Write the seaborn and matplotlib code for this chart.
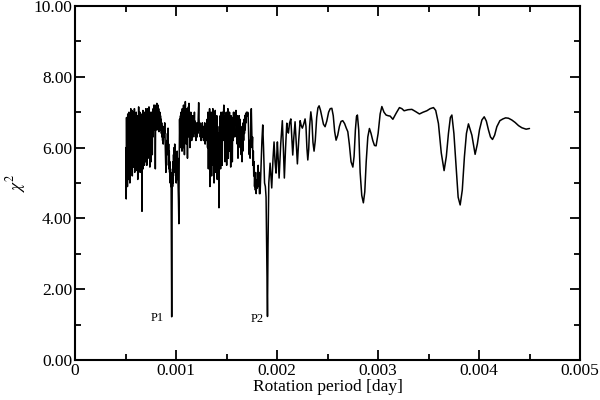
import numpy as np
import pandas as pd
import matplotlib
matplotlib.use('Agg')
import matplotlib.pyplot as plt
from matplotlib.ticker import FixedLocator
import seaborn as sns

# ── data: (period in micro-days, chi^2) ──────────────────────────────────
noisy_a = [
    (505, 6.0), (507, 4.55), (510, 6.85), (513, 5.3), (516, 6.6), (519, 4.9), (522, 6.95), (525, 5.6),
    (528, 6.4), (531, 5.1), (534, 7.0), (537, 5.5), (540, 6.7), (543, 5.0), (546, 6.9), (549, 5.9),
    (552, 7.1), (555, 5.4), (558, 6.6), (561, 5.8), (564, 7.05), (567, 5.2), (570, 6.8), (573, 5.7),
    (576, 7.0), (579, 5.45), (582, 6.75), (585, 6.0), (588, 7.1), (591, 5.3), (594, 6.6), (597, 5.75),
    (600, 6.95), (603, 5.4), (606, 7.0), (609, 5.9), (612, 6.8), (615, 5.35), (618, 6.9), (621, 5.1),
    (624, 6.7), (627, 5.8), (630, 7.15), (633, 5.5), (636, 6.85), (639, 5.95), (642, 7.0), (645, 5.3),
    (648, 6.7), (651, 5.6), (654, 6.95), (657, 5.9), (660, 6.6), (663, 4.2), (666, 6.8), (669, 5.7),
    (672, 7.05), (675, 5.4), (678, 6.6), (681, 5.9), (684, 6.9), (687, 5.5), (690, 7.0), (693, 5.95),
    (696, 6.75), (699, 5.6), (702, 7.1), (705, 6.1), (708, 6.85), (711, 5.5), (714, 6.9), (717, 6.0),
    (720, 7.1), (723, 5.7), (726, 6.8), (729, 6.2), (732, 7.15), (735, 5.9), (738, 6.7), (741, 5.45),
    (744, 6.9), (747, 6.1), (750, 7.0), (753, 5.6), (756, 6.8), (759, 6.2), (762, 7.0), (765, 5.8),
    (768, 6.9), (771, 6.3), (774, 7.1),
]

noisy_b = [
    (777, 6.6), (780, 7.2), (783, 6.5), (786, 7.05), (789, 6.7), (792, 7.2), (795, 5.4), (798, 6.9),
    (801, 6.5), (804, 7.15), (807, 6.6), (810, 7.25), (813, 6.5), (816, 7.0), (819, 6.7), (822, 7.2),
    (825, 6.6), (828, 7.1), (831, 6.45), (834, 6.95), (837, 6.7), (840, 7.0), (843, 6.5), (846, 6.9),
    (849, 6.6), (852, 6.8), (855, 6.4), (858, 6.7), (861, 6.3), (864, 6.6), (867, 6.2), (870, 6.5),
    (873, 6.1), (876, 6.4), (879, 6.3), (882, 6.6), (885, 6.4), (888, 6.7), (891, 6.3), (894, 5.9),
    (897, 5.6), (900, 5.3), (903, 5.9), (906, 5.5), (909, 6.2), (912, 5.8), (915, 6.4), (918, 6.0),
    (921, 6.55), (924, 5.8), (927, 6.1), (930, 5.4), (933, 5.9), (936, 5.3), (939, 5.6), (942, 5.0),
    (945, 5.4), (948, 4.9), (951, 5.2), (954, 3.5), (957, 1.22), (960, 3.8), (963, 5.3), (966, 4.9),
    (969, 5.6), (972, 5.0), (975, 5.8), (978, 5.3), (981, 6.0), (984, 5.5), (987, 6.1), (990, 5.6),
    (993, 5.9), (996, 5.2), (999, 5.7), (1002, 5.0), (1005, 5.6), (1008, 5.3), (1011, 5.9), (1014, 5.1),
    (1017, 5.7), (1020, 5.0), (1024, 4.5), (1028, 3.85), (1031, 5.5), (1035, 6.8), (1038, 6.2),
]

noisy_c = [
    (1041, 6.5), (1044, 6.9), (1047, 6.0), (1050, 7.0), (1053, 6.2), (1056, 6.8), (1059, 5.9), (1062, 7.1),
    (1065, 6.3), (1068, 6.9), (1071, 6.0), (1074, 7.2), (1077, 6.4), (1080, 6.8), (1083, 5.8), (1086, 7.0),
    (1089, 6.2), (1092, 7.3), (1095, 6.5), (1098, 6.9), (1101, 6.1), (1104, 7.1), (1107, 6.4), (1110, 7.0),
    (1113, 5.7), (1116, 6.8), (1119, 6.3), (1122, 7.15), (1125, 6.6), (1128, 7.25), (1131, 6.5), (1134, 6.9),
    (1137, 6.0), (1140, 6.7), (1143, 6.3), (1146, 7.0), (1149, 6.5), (1152, 6.8), (1155, 6.2), (1158, 6.6),
    (1161, 6.4), (1164, 6.9), (1167, 6.3), (1170, 6.7), (1173, 6.5), (1176, 6.9), (1179, 6.6), (1182, 7.0),
    (1185, 6.4), (1188, 6.75), (1191, 6.3), (1194, 6.6), (1197, 6.2), (1200, 6.5), (1203, 6.4), (1206, 6.7),
    (1209, 6.3), (1212, 6.6), (1215, 6.4), (1218, 6.7),
]

noisy_d = [
    (1221, 6.9), (1224, 7.27), (1228, 6.8), (1232, 6.5), (1236, 6.7), (1240, 6.3), (1244, 6.6), (1248, 6.2),
    (1252, 6.5), (1256, 6.35), (1260, 6.7), (1264, 6.3), (1268, 6.6), (1272, 6.2), (1276, 6.5), (1280, 6.4),
    (1284, 6.7), (1288, 6.1), (1292, 6.5), (1296, 6.3), (1300, 6.6), (1304, 6.2), (1308, 6.8), (1312, 6.0),
    (1316, 7.0), (1320, 5.4), (1324, 6.9), (1328, 5.8), (1332, 7.1), (1336, 4.9), (1340, 6.8), (1344, 5.6),
    (1348, 7.0), (1352, 5.2), (1356, 6.9), (1360, 5.9), (1364, 7.1), (1368, 5.5), (1372, 6.8), (1376, 5.0),
    (1380, 6.9), (1384, 5.7), (1388, 7.05), (1392, 5.3), (1396, 6.7), (1400, 5.8), (1404, 6.9), (1408, 5.1),
    (1412, 6.6), (1416, 5.6), (1420, 6.4), (1425, 4.3), (1429, 6.3), (1433, 5.7), (1437, 6.9), (1441, 5.4),
    (1445, 7.0), (1449, 6.0), (1453, 6.8), (1457, 5.5), (1461, 7.0), (1465, 6.2), (1469, 6.9), (1473, 7.2),
    (1477, 6.3), (1481, 6.9), (1485, 5.6), (1489, 6.8), (1493, 6.1), (1497, 7.0), (1501, 5.5), (1505, 6.7),
    (1509, 6.0), (1513, 7.1), (1517, 5.7), (1521, 6.8), (1525, 6.3), (1529, 7.0), (1533, 5.9), (1537, 6.6),
    (1541, 5.45), (1545, 6.9), (1549, 6.0), (1553, 6.7), (1557, 5.6), (1561, 6.85), (1565, 6.2), (1569, 7.0),
    (1573, 6.5), (1577, 6.9), (1581, 6.3), (1585, 7.0), (1589, 6.8), (1593, 7.05), (1597, 6.9), (1601, 6.6),
    (1605, 6.1), (1609, 6.9), (1613, 5.7), (1617, 6.6), (1621, 6.0), (1625, 6.9), (1629, 6.3), (1633, 6.8),
    (1637, 6.1), (1641, 6.6), (1645, 5.8), (1649, 6.5), (1653, 5.6), (1657, 6.3), (1661, 5.9), (1665, 6.7),
    (1669, 6.2), (1673, 6.8), (1677, 6.4), (1681, 6.9), (1685, 6.5), (1689, 6.95), (1693, 6.7), (1697, 7.0),
    (1701, 6.95), (1705, 6.9), (1709, 7.0), (1713, 6.95), (1717, 6.6), (1721, 6.0), (1725, 5.8), (1729, 6.2),
    (1733, 5.7), (1737, 6.3), (1741, 6.8), (1745, 7.1), (1749, 6.6), (1753, 6.0), (1757, 6.3), (1761, 5.5),
    (1765, 5.9), (1769, 5.2), (1773, 5.6), (1777, 4.9), (1781, 5.3), (1785, 4.8), (1789, 5.1), (1793, 4.7),
    (1797, 5.0), (1801, 4.85), (1805, 5.3), (1809, 5.0), (1813, 5.5), (1817, 4.9), (1821, 5.3), (1825, 4.7),
]

ripple = [
    (1832, 4.7), (1840, 5.4), (1850, 6.2), (1858, 6.64), (1866, 6.0), (1876, 5.0), (1884, 4.9), (1891, 4.6),
    (1898, 2.8), (1905, 1.23), (1910, 3.2), (1918, 5.0), (1931, 5.56), (1947, 4.86), (1960, 5.7), (1970, 6.16),
    (1980, 5.6), (1990, 5.28), (1997, 5.8), (2003, 6.16), (2012, 5.6), (2020, 5.14), (2036, 6.1), (2052, 6.76),
    (2062, 6.0), (2072, 5.14), (2084, 6.0), (2096, 6.69), (2104, 6.5), (2112, 6.41), (2124, 6.7), (2136, 6.81),
    (2146, 6.3), (2155, 5.79), (2166, 6.3), (2178, 6.73), (2190, 6.1), (2201, 5.54), (2214, 6.2),
]

smooth = [
    (2228, 6.76), (2239, 6.62), (2250, 6.55), (2263, 6.66), (2277, 6.81), (2286, 6.6), (2295, 6.0), (2304, 5.65),
    (2313, 5.95), (2322, 6.6), (2334, 7.01), (2345, 6.75), (2355, 6.15), (2366, 5.90), (2378, 6.2), (2392, 6.85),
    (2404, 7.12), (2416, 7.18), (2430, 7.05), (2443, 6.87), (2459, 6.66), (2475, 6.59), (2492, 6.75), (2510, 7.0),
    (2526, 7.1), (2542, 7.11), (2556, 6.9), (2570, 6.45), (2584, 6.21), (2600, 6.35), (2617, 6.6), (2633, 6.74),
    (2650, 6.76), (2668, 6.68), (2685, 6.55), (2700, 6.45), (2715, 6.1), (2732, 5.6), (2750, 5.45), (2762, 5.75),
    (2775, 6.5), (2786, 6.88), (2795, 6.92), (2808, 6.5), (2822, 5.3), (2838, 4.65), (2854, 4.44), (2868, 4.75),
    (2882, 5.6), (2898, 6.3), (2914, 6.54), (2930, 6.4), (2947, 6.2), (2964, 6.06), (2980, 6.05), (3000, 6.4),
    (3020, 6.95), (3037, 7.16), (3058, 7.0), (3079, 6.92), (3100, 6.9), (3119, 6.89), (3146, 6.80), (3180, 6.98),
    (3211, 7.13), (3235, 7.1), (3257, 7.04), (3295, 7.07), (3334, 7.08), (3370, 7.02), (3409, 6.95), (3445, 7.0),
    (3482, 7.04), (3515, 7.1), (3548, 7.13), (3570, 7.05), (3597, 6.68), (3625, 5.85), (3653, 5.35), (3675, 5.75),
    (3696, 6.40), (3715, 6.85), (3730, 6.92), (3750, 6.4), (3772, 5.46), (3792, 4.6), (3812, 4.38), (3833, 4.8),
    (3854, 5.74), (3874, 6.4), (3894, 6.67), (3928, 6.35), (3960, 5.81), (3982, 6.1), (4003, 6.50), (4027, 6.78),
    (4050, 6.87), (4071, 6.75), (4092, 6.50), (4112, 6.3), (4132, 6.23), (4153, 6.35), (4175, 6.59), (4205, 6.76),
    (4235, 6.81), (4262, 6.84), (4290, 6.83), (4323, 6.78), (4356, 6.71), (4390, 6.62), (4423, 6.56), (4465, 6.52),
    (4498, 6.54),
]

x_ticks = [0, 0.001, 0.002, 0.003, 0.004, 0.005]
x_labels = ['0', '0.001', '0.002', '0.003', '0.004', '0.005']
y_ticks = [0, 2, 4, 6, 8, 10]
peak_labels = [('P1', 0.000817, 1.19), ('P2', 0.00180, 1.16)]

# ── build table ─────────────────────────────────────────────
pairs = np.array(noisy_a + noisy_b + noisy_c + noisy_d + ripple + smooth, dtype=float)
df = pd.DataFrame({'period': pairs[:, 0] * 1e-6, 'chi2': pairs[:, 1]})

# ── style ───────────────────────────────────────────────────
sns.set_theme(style='ticks')
plt.rcParams['font.family'] = ['Liberation Serif', 'DejaVu Serif']
plt.rcParams['mathtext.fontset'] = 'stix'
plt.rcParams['text.color'] = 'black'
plt.rcParams['axes.labelcolor'] = 'black'

fig = plt.figure(figsize=(6, 4), dpi=100)
ax = fig.add_axes([0.125, 0.1, 0.842, 0.885])

sns.lineplot(data=df, x='period', y='chi2', estimator=None, sort=False,
             color='black', linewidth=1.1, ax=ax)

ax.set_xlim(0, 0.005)
ax.set_ylim(0, 10)
ax.xaxis.set_major_locator(FixedLocator(x_ticks))
ax.set_xticklabels(x_labels)
ax.xaxis.set_minor_locator(FixedLocator([0.0005, 0.0015, 0.0025, 0.0035, 0.0045]))
ax.yaxis.set_major_locator(FixedLocator(y_ticks))
ax.set_yticklabels([f'{v:.2f}' for v in y_ticks])
ax.yaxis.set_minor_locator(FixedLocator([1, 3, 5, 7, 9]))

ax.tick_params(which='both', direction='in', top=True, right=True,
               colors='black', labelsize=12.5)
ax.tick_params(which='major', length=7.5, width=1.3, pad=2)
ax.tick_params(which='minor', length=4, width=1.3)
for s in ax.spines.values():
    s.set_linewidth(1.5)
    s.set_color('black')

ax.set_xlabel('Rotation period [day]', fontsize=12.5, labelpad=0)
ax.set_ylabel(r'$\chi^2$', fontsize=12.5, labelpad=4)

for txt, xv, yv in peak_labels:
    ax.text(xv, yv, txt, fontsize=9, ha='center', va='center')

fig.savefig('out.png', dpi=100)
